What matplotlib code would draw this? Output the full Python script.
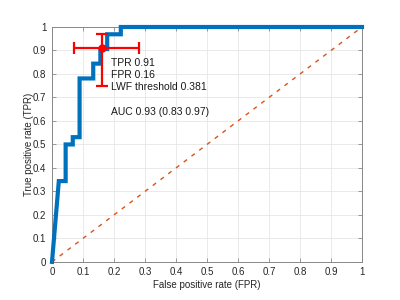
import matplotlib
matplotlib.use('Agg')
import matplotlib.pyplot as plt

# ROC curve (step points)
fpr = [0.0, 0.022, 0.044, 0.044, 0.067, 0.067, 0.089, 0.089, 0.133, 0.133,
       0.156, 0.156, 0.178, 0.178, 0.222, 0.222, 1.0]
tpr = [0.0, 0.344, 0.344, 0.5, 0.5, 0.531, 0.531, 0.781, 0.781, 0.844,
       0.844, 0.906, 0.906, 0.969, 0.969, 1.0, 1.0]

# operating point with confidence intervals
op_fpr = 0.16
op_tpr = 0.91
fpr_ci = [0.07, 0.28]
tpr_ci = [0.75, 0.97]

info_lines = ['TPR 0.91', 'FPR 0.16', 'LWF threshold 0.381', '', 'AUC 0.93 (0.83 0.97)']
ticks = [0, 0.1, 0.2, 0.3, 0.4, 0.5, 0.6, 0.7, 0.8, 0.9, 1]
tick_labels = ['0', '0.1', '0.2', '0.3', '0.4', '0.5', '0.6', '0.7', '0.8', '0.9', '1']

plt.rcParams['font.family'] = ['Liberation Sans', 'DejaVu Sans']

fig = plt.figure(figsize=(4, 3), dpi=100)
ax = fig.add_axes([0.13, 0.127, 0.775, 0.783])

ax.plot([0, 1], [0, 1], linestyle=(0, (3, 4)), color='#D95319', linewidth=1.0)
ax.plot(fpr, tpr, color='#0072BD', linewidth=3.0, clip_on=False,
        solid_joinstyle='miter', zorder=3)
ax.errorbar([op_fpr], [op_tpr],
            xerr=[[op_fpr - fpr_ci[0]], [fpr_ci[1] - op_fpr]],
            yerr=[[op_tpr - tpr_ci[0]], [tpr_ci[1] - op_tpr]],
            fmt='o', color='#FF0000', markersize=5, elinewidth=1.6,
            capsize=4, capthick=1.6, zorder=4)

ax.text(0.19, 0.87, '\n'.join(info_lines), fontsize=7.5, color='#1a1a1a',
        va='top', ha='left', linespacing=1.3)

ax.set_xlim(0, 1)
ax.set_ylim(0, 1)
ax.set_xticks(ticks)
ax.set_xticklabels(tick_labels)
ax.set_yticks(ticks)
ax.set_yticklabels(tick_labels)
ax.tick_params(direction='in', length=3, width=0.6, labelsize=7,
               color='#888888', labelcolor='#262626', top=True, right=True, pad=4)
for s in ax.spines.values():
    s.set_color('#888888')
    s.set_linewidth(0.7)
ax.grid(True, color='#e6e6e6', linewidth=0.6)
ax.set_axisbelow(True)
ax.set_xlabel('False positive rate (FPR)', fontsize=7, color='#262626', labelpad=2)
ax.set_ylabel('True positive rate (TPR)', fontsize=7, color='#262626', labelpad=-1)

fig.savefig('out.png', dpi=100)
